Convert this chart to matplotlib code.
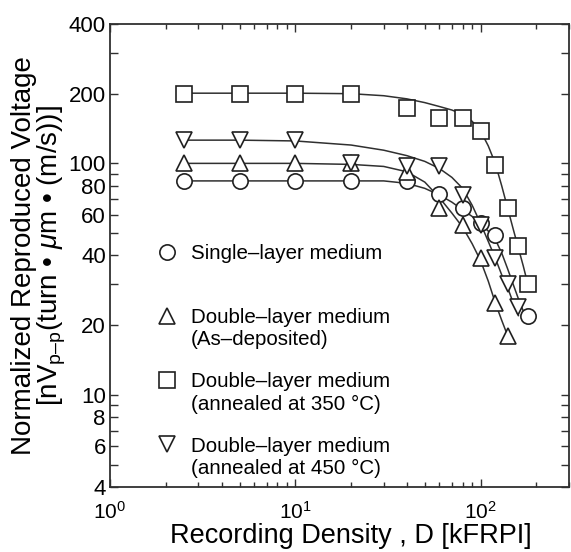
import matplotlib
matplotlib.use("Agg")
import matplotlib.pyplot as plt
from matplotlib.ticker import FixedLocator, FixedFormatter, LogLocator, NullFormatter, LogFormatterMathtext
from matplotlib.offsetbox import HPacker

plt.rcParams['font.family'] = ['Liberation Sans', 'DejaVu Sans']
plt.rcParams['mathtext.fontset'] = 'custom'
plt.rcParams['mathtext.rm'] = 'Liberation Sans'
plt.rcParams['mathtext.it'] = 'Liberation Sans:italic'

# measured points (recording density D in kFRPI, voltage)
d_single = [2.5, 5, 10, 20, 40, 60, 80, 100, 120, 180]
v_single = [84, 84, 84, 84, 84, 74, 64, 55, 49, 22]

d_asdep = [2.5, 5, 10, 20, 40, 60, 80, 100, 120, 140]
v_asdep = [100, 100, 100, 100, 92, 64, 54, 39, 25, 18]

d_350 = [2.5, 5, 10, 20, 40, 60, 80, 100, 120, 140, 160, 180]
v_350 = [200, 200, 200, 200, 173, 157, 157, 138, 98, 64, 44, 30]

d_450 = [2.5, 5, 10, 20, 40, 60, 80, 100, 120, 140, 160]
v_450 = [126, 126, 126, 100, 97, 97, 73, 54, 39, 30, 24]

# fitted curves
fit_d = [2.5, 5, 10, 20, 30, 40, 50, 60, 70, 80, 90, 100, 110, 120, 130, 140, 150, 160, 170, 180]
fit_single = [84, 84, 84, 84, 84, 82, 78, 73, 68, 63, 59, 55, 51, 47, 41, 35, 30, 26, 23, 21]
fit_asdep = [100, 100, 100, 99, 97, 92, 83, 71, 61, 53, 45, 38, 31, 25, 21, 18]
fit_350 = [201, 201, 201, 200, 196, 190, 183, 176, 170, 163, 152, 138, 119, 100, 80, 64, 52, 43, 36, 30]
fit_450 = [126, 126, 125, 120, 114, 108, 102, 95, 87, 78, 66, 55, 46, 39, 33, 29, 25, 22]

labels = ['Single\u2013layer medium\n',
          'Double\u2013layer medium\n(As\u2013deposited)',
          'Double\u2013layer medium\n(annealed at 350 \u00b0C)',
          'Double\u2013layer medium\n(annealed at 450 \u00b0C)']

y_ticks = [4, 5, 6, 7, 8, 9, 10, 20, 30, 40, 50, 60, 70, 80, 90, 100, 200, 300, 400]
y_tick_labels = ['4', '', '6', '', '8', '', '10', '20', '', '40', '', '60', '', '80', '',
                 '100', '200', '', '400']

fig = plt.figure(figsize=(5.71, 5.52), dpi=100)
ax = fig.add_axes([110/571, 65/552, 459/571, 463/552])

line_kw = dict(color='#303030', lw=1.1, zorder=2)
ax.plot(fit_d, fit_single, **line_kw)
ax.plot(fit_d[:len(fit_asdep)], fit_asdep, **line_kw)
ax.plot(fit_d, fit_350, **line_kw)
ax.plot(fit_d[:len(fit_450)], fit_450, **line_kw)

mk = dict(ls='none', mfc='white', mec='#202020', mew=1.2, zorder=3)
h1, = ax.plot(d_single, v_single, marker='o', ms=11, **mk)
h2, = ax.plot(d_asdep, v_asdep, marker='^', ms=12, **mk)
h3, = ax.plot(d_350, v_350, marker='s', ms=11, **mk)
h4, = ax.plot(d_450, v_450, marker='v', ms=12, **mk)

ax.set_xscale('log')
ax.set_yscale('log')
ax.set_xlim(1, 300)
ax.set_ylim(4, 400)

ax.yaxis.set_major_locator(FixedLocator(y_ticks))
ax.yaxis.set_major_formatter(FixedFormatter(y_tick_labels))
ax.yaxis.set_minor_formatter(NullFormatter())
ax.yaxis.set_minor_locator(FixedLocator([]))
ax.xaxis.set_major_locator(FixedLocator([1, 10, 100]))
ax.xaxis.set_major_formatter(LogFormatterMathtext())
ax.xaxis.set_minor_locator(LogLocator(base=10, subs=range(2, 10)))
ax.xaxis.set_minor_formatter(NullFormatter())

ax.tick_params(which='both', direction='in', top=True, right=True, width=1.0, color='#303030')
ax.tick_params(axis='y', which='major', length=6, labelsize=16, pad=3)
ax.tick_params(axis='x', which='major', length=6, labelsize=15, pad=10)
ax.tick_params(axis='x', which='minor', length=3.5)
for s in ax.spines.values():
    s.set_linewidth(1.3)
    s.set_color('#303030')

ax.set_xlabel('Recording Density , D [kFRPI]', fontsize=19.5)
ax.xaxis.set_label_coords(0.525, -0.078)
ax.set_ylabel('Normalized Reproduced Voltage\n[nV$_{\\mathrm{p\u2013p}}$(turn \u2022 $\\mu$m \u2022 (m/s))]',
              fontsize=20, linespacing=0.95)
ax.yaxis.set_label_coords(-0.091, 0.5)

leg = ax.legend([h1, h2, h3, h4], labels, loc='upper left', bbox_to_anchor=(0.099, 0.524),
                frameon=False, fontsize=14.8, handlelength=1.1, handletextpad=0.62,
                labelspacing=1.12, borderpad=0, borderaxespad=0)
for hp in leg.findobj(HPacker):
    hp.align = 'top'
for t in leg.get_texts():
    t.set_linespacing(1.2)

fig.savefig('out.png', dpi=100)
